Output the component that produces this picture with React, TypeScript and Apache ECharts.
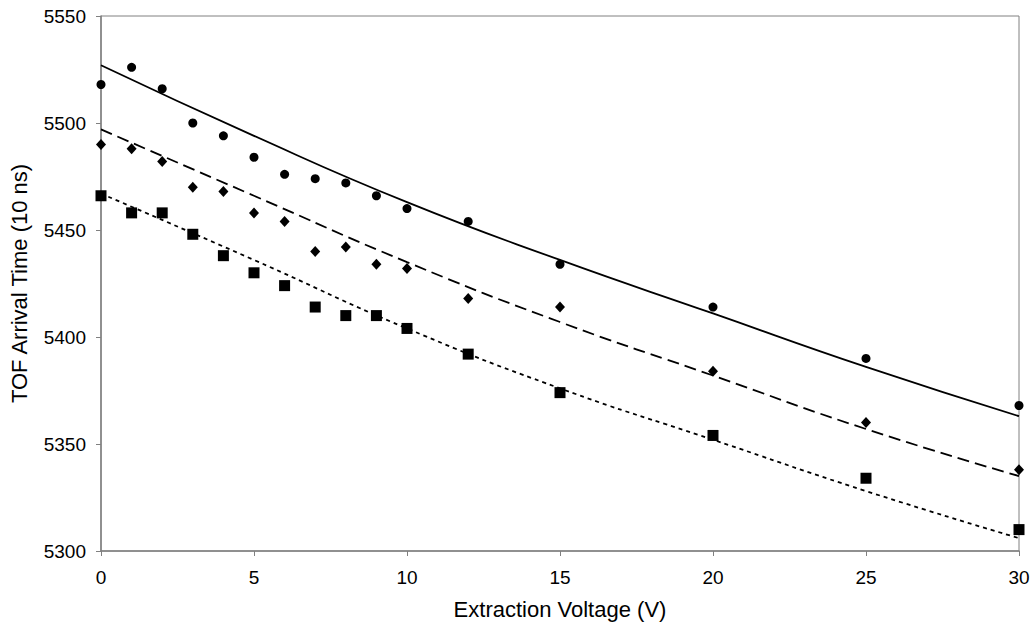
import React, { useEffect, useRef } from "react";
import * as echarts from "echarts";

// Measured points
const voltages = [0, 1, 2, 3, 4, 5, 6, 7, 8, 9, 10, 12, 15, 20, 25, 30];
const circleTimes = [5518, 5526, 5516, 5500, 5494, 5484, 5476, 5474, 5472, 5466, 5460, 5454, 5434, 5414, 5390, 5368];
const diamondTimes = [5490, 5488, 5482, 5470, 5468, 5458, 5454, 5440, 5442, 5434, 5432, 5418, 5414, 5384, 5360, 5338];
const squareTimes = [5466, 5458, 5458, 5448, 5438, 5430, 5424, 5414, 5410, 5410, 5404, 5392, 5374, 5354, 5334, 5310];

// Fitted curves
const fitVoltages = [0, 5, 10, 15, 20, 25, 30];
const fitSolid = [5527, 5494, 5463, 5436, 5411, 5386, 5363];
const fitDashed = [5497, 5466, 5435, 5407, 5382, 5357, 5335];
const fitDotted = [5467, 5436, 5404, 5376, 5352, 5328, 5306];

const xTicks = [0, 5, 10, 15, 20, 25, 30];
const yTicks = [5300, 5350, 5400, 5450, 5500, 5550];

const pair = (xs: number[], ys: number[]) => xs.map((x, i) => [x, ys[i]]);

export default function App() {
  const ref = useRef<HTMLDivElement>(null);
  useEffect(() => {
    document.body.style.margin = "0";
    if (!ref.current) return;
    const chart = echarts.init(ref.current, null, { renderer: "svg" });
    const font = "'Liberation Sans', Arial, sans-serif";
    const axisColor = "#808080";
    chart.setOption({
      animation: false,
      backgroundColor: "#ffffff",
      grid: {
        left: 101,
        right: 16,
        top: 16,
        bottom: 75,
        show: true,
        borderColor: axisColor,
        borderWidth: 1,
      },
      xAxis: {
        type: "value",
        min: xTicks[0],
        max: xTicks[xTicks.length - 1],
        interval: 5,
        name: "Extraction Voltage (V)",
        nameLocation: "middle",
        nameGap: 47,
        nameTextStyle: { fontFamily: font, fontSize: 22, color: "#000" },
        axisLine: { show: true, lineStyle: { color: axisColor, width: 1.5 } },
        axisTick: { show: true, inside: false, length: 5, lineStyle: { color: axisColor, width: 1 } },
        axisLabel: { fontFamily: font, fontSize: 19, color: "#000", margin: 17, formatter: (v: number) => String(v) },
        splitLine: { show: false },
      },
      yAxis: {
        type: "value",
        min: yTicks[0],
        max: yTicks[yTicks.length - 1],
        interval: 50,
        name: "TOF Arrival Time (10 ns)",
        nameLocation: "middle",
        nameGap: 71,
        nameTextStyle: { fontFamily: font, fontSize: 22, color: "#000" },
        axisLine: { show: true, lineStyle: { color: axisColor, width: 1.5 } },
        axisTick: { show: true, inside: false, length: 5, lineStyle: { color: axisColor, width: 1 } },
        axisLabel: { fontFamily: font, fontSize: 19, color: "#000", margin: 15, formatter: (v: number) => String(v) },
        splitLine: { show: false },
      },
      series: [
        {
          type: "line",
          data: pair(fitVoltages, fitSolid),
          smooth: true,
          showSymbol: false,
          lineStyle: { color: "#000", width: 1.8, type: "solid" },
          z: 2,
        },
        {
          type: "line",
          data: pair(fitVoltages, fitDashed),
          smooth: true,
          showSymbol: false,
          lineStyle: { color: "#000", width: 1.8, type: [12, 6] },
          z: 2,
        },
        {
          type: "line",
          data: pair(fitVoltages, fitDotted),
          smooth: true,
          showSymbol: false,
          lineStyle: { color: "#000", width: 1.8, type: [4, 4] },
          z: 2,
        },
        {
          type: "scatter",
          data: pair(voltages, circleTimes),
          symbol: "circle",
          symbolSize: 9,
          itemStyle: { color: "#000", opacity: 1 },
          z: 3,
        },
        {
          type: "scatter",
          data: pair(voltages, diamondTimes),
          symbol: "diamond",
          symbolSize: [10, 11],
          itemStyle: { color: "#000", opacity: 1 },
          z: 3,
        },
        {
          type: "scatter",
          data: pair(voltages, squareTimes),
          symbol: "rect",
          symbolSize: 11,
          itemStyle: { color: "#000", opacity: 1 },
          z: 3,
        },
      ],
    });
    return () => chart.dispose();
  }, []);
  return <div ref={ref} style={{ width: 1035, height: 626 }} />;
}
